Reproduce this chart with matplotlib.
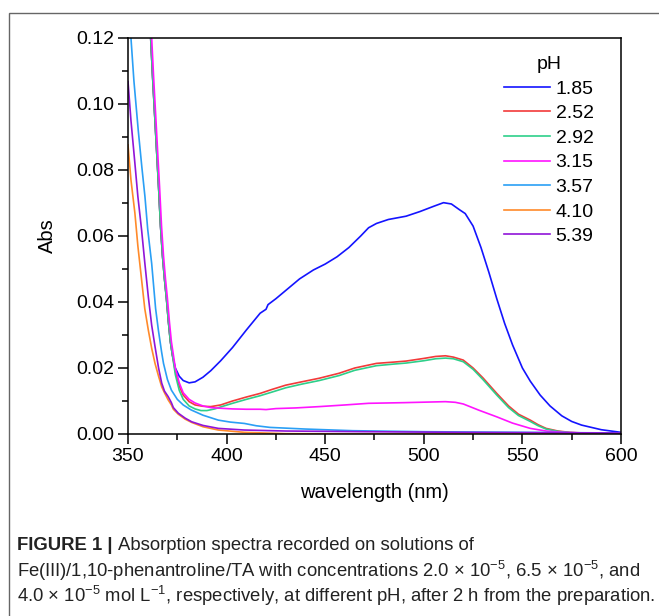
import matplotlib
matplotlib.use("Agg")
import matplotlib.pyplot as plt
from matplotlib.patches import Rectangle
from matplotlib.ticker import MultipleLocator

plt.rcParams['font.family'] = ['Liberation Sans', 'DejaVu Sans']
plt.rcParams['mathtext.fontset'] = 'custom'
plt.rcParams['mathtext.rm'] = 'Liberation Sans'
plt.rcParams['mathtext.it'] = 'Liberation Sans:italic'

# ---------------- data ----------------
ph_labels = ["1.85", "2.52", "2.92", "3.15", "3.57", "4.10", "5.39"]

wl_185 = [361.5, 362.5, 363.5, 364.5, 365.5, 366.5, 367.5, 368.5, 369.5, 370.5, 371.5, 372.5, 374,
          376, 378, 381, 384, 388, 392, 397, 403, 410, 417, 420, 421, 425, 430, 437, 444, 450, 456,
          462, 468, 472, 476, 482, 491, 498, 505, 510, 514, 518, 521, 525, 529, 533, 537, 541, 545,
          550, 554, 559, 564, 570, 575, 580, 590, 600]
abs_185 = [0.12, 0.108, 0.097, 0.086, 0.075, 0.063, 0.054, 0.047, 0.041, 0.034, 0.028, 0.024, 0.020,
           0.0175, 0.0162, 0.0155, 0.0158, 0.0172, 0.0192, 0.0222, 0.0262, 0.0315, 0.0366, 0.0378,
           0.0392, 0.0410, 0.0435, 0.0470, 0.0497, 0.0515, 0.0537, 0.0565, 0.0600, 0.0625, 0.0638,
           0.0650, 0.0660, 0.0674, 0.0690, 0.0701, 0.0697, 0.0680, 0.0668, 0.0630, 0.0565, 0.0490,
           0.0410, 0.0335, 0.0270, 0.0200, 0.0160, 0.0118, 0.0085, 0.0055, 0.0038, 0.0027, 0.0013,
           0.0005]

wl_252 = [361.5, 362.5, 363.5, 364.5, 365.5, 366.5, 367.5, 368.5, 369.5, 370.5, 371.5, 372.5, 374,
          376, 378, 381, 384, 388, 392, 397, 403, 410, 417, 423, 430, 438, 447, 457, 465, 476, 485,
          491, 500, 506, 511, 515, 520, 525, 530, 537, 543, 548, 554, 558, 562, 568, 574, 585, 600]
abs_252 = [0.12, 0.108, 0.097, 0.086, 0.075, 0.063, 0.054, 0.047, 0.041, 0.034, 0.028, 0.024, 0.019,
           0.0145, 0.0118, 0.0098, 0.0088, 0.0084, 0.0083, 0.0088, 0.0100, 0.0112, 0.0123, 0.0135,
           0.0148, 0.0158, 0.0169, 0.0184, 0.0200, 0.0214, 0.0218, 0.0221, 0.0229, 0.0235, 0.0237,
           0.0233, 0.0224, 0.0200, 0.0170, 0.0123, 0.0085, 0.0060, 0.0042, 0.0028, 0.0017, 0.0009,
           0.0005, 0.0002, 0.0001]

wl_292 = [361.5, 362.5, 363.5, 364.5, 365.5, 366.5, 367.5, 368.5, 369.5, 370.5, 371.5, 372.5, 374,
          376, 378, 381, 384, 387, 390, 394, 397, 403, 410, 417, 423, 430, 438, 447, 457, 465, 476,
          485, 491, 500, 506, 511, 515, 520, 525, 530, 537, 543, 548, 554, 558, 562, 568, 574, 585,
          600]
abs_292 = [0.12, 0.108, 0.097, 0.086, 0.075, 0.063, 0.054, 0.047, 0.041, 0.034, 0.028, 0.024, 0.018,
           0.0132, 0.0105, 0.0085, 0.0076, 0.0071, 0.0071, 0.0076, 0.0082, 0.0093, 0.0105, 0.0116,
           0.0127, 0.0140, 0.0151, 0.0162, 0.0177, 0.0193, 0.0207, 0.0212, 0.0215, 0.0222, 0.0228,
           0.0230, 0.0228, 0.0219, 0.0196, 0.0165, 0.0118, 0.0080, 0.0056, 0.0038, 0.0025, 0.0015,
           0.0008, 0.0004, 0.0002, 0.0001]

wl_315 = [362, 363, 364, 365, 366, 367, 368, 369, 370, 371, 372, 373, 374, 376, 378, 381, 384, 388,
          392, 397, 403, 410, 417, 420, 425, 435, 447, 460, 472, 490, 511, 516, 520, 528, 537, 545,
          554, 562, 571, 585, 600]
abs_315 = [0.12, 0.108, 0.097, 0.086, 0.075, 0.063, 0.054, 0.047, 0.041, 0.034, 0.028, 0.024, 0.020,
           0.0155, 0.0125, 0.0105, 0.0094, 0.0085, 0.0080, 0.0078, 0.0076, 0.0075, 0.0075, 0.0074,
           0.0077, 0.0079, 0.0083, 0.0088, 0.0093, 0.0095, 0.0098, 0.0096, 0.0091, 0.0072, 0.0052,
           0.0033, 0.0017, 0.0009, 0.0005, 0.0002, 0.0001]

wl_357 = [351.5, 353, 355.2, 357, 358.6, 360, 362, 364, 365.4, 367, 368, 370, 372, 375, 378, 382,
          388, 395.8, 402, 409, 415, 422, 440, 464, 500, 550, 600]
abs_357 = [0.12, 0.107, 0.092, 0.081, 0.0719, 0.062, 0.0517, 0.038, 0.0315, 0.025, 0.0214, 0.0165,
           0.0133, 0.0105, 0.0088, 0.0073, 0.0057, 0.0042, 0.0036, 0.0032, 0.0025, 0.0020, 0.0015,
           0.0010, 0.0007, 0.0005, 0.0003]

wl_410 = [350, 351.5, 353.5, 355, 356.9, 358.5, 360.3, 362, 363.7, 365.5, 367.1, 368.5, 370.4, 372,
          373, 375.5, 379, 382.3, 388, 395.8, 409, 430, 470, 520, 600]
abs_410 = [0.0876, 0.077, 0.0669, 0.057, 0.0467, 0.038, 0.0315, 0.026, 0.0214, 0.0175, 0.0143,
           0.0125, 0.0103, 0.0088, 0.0075, 0.0060, 0.0045, 0.0035, 0.0022, 0.0012, 0.0005, 0.0001,
           0.0, 0.0, 0.0]

wl_539 = [350, 351.5, 353.5, 355, 356.9, 358.5, 360.3, 362, 363.7, 365.5, 367.1, 368.5, 370.4, 372,
          373, 375.5, 379, 382.3, 388, 395.8, 409, 430, 470, 520, 560, 600]
abs_539 = [0.1068, 0.095, 0.082, 0.072, 0.0618, 0.052, 0.0416, 0.033, 0.0265, 0.020, 0.0154, 0.013,
           0.0113, 0.0095, 0.008, 0.0063, 0.0048, 0.0037, 0.0026, 0.0017, 0.0012, 0.0009, 0.0007,
           0.0005, 0.0004, 0.0003]

series_wl = [wl_185, wl_252, wl_292, wl_315, wl_357, wl_410, wl_539]
series_abs = [abs_185, abs_252, abs_292, abs_315, abs_357, abs_410, abs_539]
colors = ["#1414ff", "#f23a3a", "#2ecf8a", "#ff14ff", "#2a9ff5", "#ff8a2a", "#9014d8"]

x_ticks = [350, 400, 450, 500, 550, 600]
y_ticks = [0.00, 0.02, 0.04, 0.06, 0.08, 0.10, 0.12]

# ---------------- figure ----------------
W, H = 659, 616
fig = plt.figure(figsize=(W / 100, H / 100), dpi=100)

# outer frame (cut off at right and bottom)
fig.patches.append(Rectangle((9 / W, -0.1), 1.2, (H - 13) / H + 0.1, transform=fig.transFigure,
                             fill=False, edgecolor="#666666", linewidth=1.0))

AX_L, AX_R, AX_T, AX_B = 128, 621, 38, 434
ax = fig.add_axes([AX_L / W, 1 - AX_B / H, (AX_R - AX_L) / W, (AX_B - AX_T) / H])
for wl, ab, c, lab in zip(series_wl, series_abs, colors, ph_labels):
    ax.plot(wl, ab, color=c, lw=1.2, label=lab)

ax.set_xlim(350, 600)
ax.set_ylim(0, 0.12)
ax.set_xticks(x_ticks)
ax.set_yticks(y_ticks)
ax.set_yticklabels([f"{v:.2f}" for v in y_ticks])
ax.xaxis.set_minor_locator(MultipleLocator(25))
ax.yaxis.set_minor_locator(MultipleLocator(0.01))
ax.tick_params(which="major", direction="out", length=7, width=1.1, labelsize=14, pad=3)
ax.tick_params(which="minor", direction="out", length=4, width=1.1)
for s in ax.spines.values():
    s.set_linewidth(1.1)

ax.set_xlabel("wavelength (nm)", fontsize=14.5, labelpad=13)
ax.set_ylabel("Abs", fontsize=14.5, labelpad=14)

leg_x = (504 - AX_L) / (AX_R - AX_L)
leg_y = (AX_B - 56) / (AX_B - AX_T)
leg = ax.legend(title="pH", frameon=False, fontsize=14, title_fontsize=14,
                loc="upper left", bbox_to_anchor=(leg_x, leg_y), handlelength=2.35,
                handletextpad=0.3, labelspacing=0.36, borderaxespad=0.0, borderpad=0.0)

# ---------------- caption ----------------
renderer = fig.canvas.get_renderer()
cap_x = 17 / W
cap_fs = 12.5
bold = fig.text(cap_x, 1 - 546 / H, "FIGURE 1 |", fontsize=cap_fs, fontweight="bold",
                va="center", ha="left", color="#222222")
rest1 = fig.text(cap_x, 1 - 546 / H, "Absorption spectra recorded on solutions of",
                 fontsize=cap_fs, va="center", ha="left", color="#222222")
line2 = ("Fe(III)/1,10-phenantroline/TA with concentrations 2.0 × 10$^{−5}$, "
         "6.5 × 10$^{−5}$, and")
line3 = ("4.0 × 10$^{−5}$ mol L$^{−1}$, respectively, at different pH, after 2 h from "
         "the preparation.")
t2 = fig.text(cap_x, 1 - 571 / H, line2, fontsize=cap_fs, va="center", ha="left", color="#222222")
t3 = fig.text(cap_x, 1 - 596 / H, line3, fontsize=cap_fs, va="center", ha="left", color="#222222")
w2 = t2.get_window_extent(renderer).width
w3 = t3.get_window_extent(renderer).width
scale = min((651 - 17) / w2, (655 - 17) / w3)
for t in (bold, rest1, t2, t3):
    t.set_fontsize(cap_fs * scale)
bb = bold.get_window_extent(renderer)
rest1.set_x((bb.x1 + 5) / W)

fig.savefig("out.png", dpi=100)
